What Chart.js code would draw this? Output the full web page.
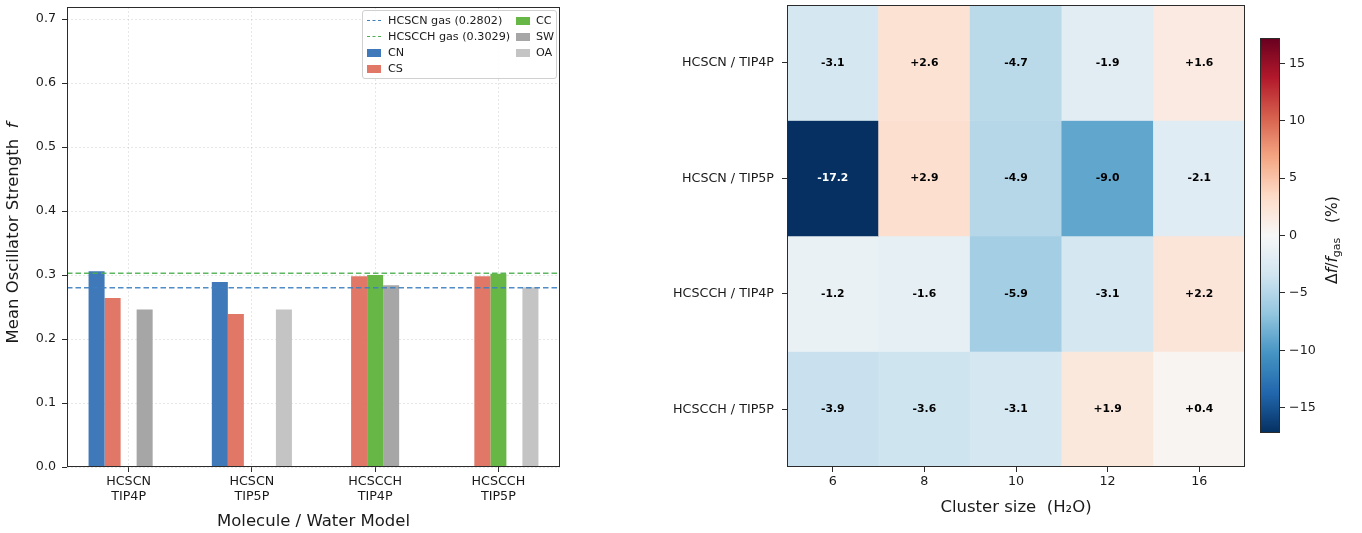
<!DOCTYPE html>
<html>
<head>
<meta charset="utf-8">
<script src="https://cdn.jsdelivr.net/npm/chart.js@4.4.1/dist/chart.umd.min.js"></script>
<style>
  body { margin: 0; background: #fff; width: 1362px; height: 533px; position: relative; overflow: hidden; font-family: "DejaVu Sans", sans-serif; }
  canvas { position: absolute; top: 0; }
  #legend { position: absolute; left: 362px; top: 10px; width: 193px; height: 67px; border: 1px solid #d0d0d0; border-radius: 3px; background: rgba(255,255,255,0.85); font-size: 11.2px; color: #1a1a1a; }
  .item { position: absolute; height: 16px; line-height: 16px; white-space: nowrap; }
  .patch { position: absolute; width: 14px; height: 8px; top: 4px; left: 0; }
  .dash { position: absolute; width: 14px; top: 7px; left: 0; height: 0; border-top: 1.5px dashed; }
</style>
</head>
<body>
<canvas id="bars" style="left:0" width="570" height="533"></canvas>
<canvas id="heat" style="left:600px" width="650" height="533"></canvas>
<canvas id="cbar" style="left:1250px" width="100" height="533"></canvas>
<div id="legend"></div>
<script>
// ---- left panel data ----
const groupLabels = [['HCSCN', 'TIP4P'], ['HCSCN', 'TIP5P'], ['HCSCCH', 'TIP4P'], ['HCSCCH', 'TIP5P']];
const cnValues = [0.306, 0.289, null, null];
const csValues = [0.264, 0.239, 0.298, 0.298];
const ccValues = [null, null, 0.300, 0.302];
const swValues = [0.246, null, 0.284, null];
const oaValues = [null, 0.246, null, 0.281];
const gasHCSCN = 0.2802;
const gasHCSCCH = 0.3029;
const yTicks = [0, 0.1, 0.2, 0.3, 0.4, 0.5, 0.6, 0.7];

// ---- right panel data ----
const clusterSizes = ['6', '8', '10', '12', '16'];
const systems = ['HCSCN / TIP4P', 'HCSCN / TIP5P', 'HCSCCH / TIP4P', 'HCSCCH / TIP5P'];
const hcscnTip4p = [-3.1, 2.6, -4.7, -1.9, 1.6];
const hcscnTip5p = [-17.2, 2.9, -4.9, -9.0, -2.1];
const hcscchTip4p = [-1.2, -1.6, -5.9, -3.1, 2.2];
const hcscchTip5p = [-3.9, -3.6, -3.1, 1.9, 0.4];
const cbarTicks = [-15, -10, -5, 0, 5, 10, 15];
const vmax = 17.2;

const colors = { CN: '#3f79b9', CS: '#e07767', CC: '#67b747', SW: '#a6a6a6', OA: '#c4c4c4',
                 gasCN: '#3d80c0', gasCC: '#4caf50' };
const FONT = '"DejaVu Sans", sans-serif';
const TXT = '#1a1a1a';
const TICK = 12.7;
const TITLE = 16.5;

// RdBu_r
const rdbu = ['#053061', '#2166ac', '#4393c3', '#92c5de', '#d1e5f0', '#f7f7f7', '#fddbc7', '#f4a582', '#d6604d', '#b2182b', '#67001f'];
function hex(h) { return [1, 3, 5].map(i => parseInt(h.substr(i, 2), 16)); }
function cmap(v) {
  let t = (v + vmax) / (2 * vmax);
  t = Math.max(0, Math.min(1, t));
  const p = t * 10, i = Math.min(9, Math.floor(p)), f = p - i;
  const a = hex(rdbu[i]), b = hex(rdbu[i + 1]);
  const c = a.map((x, k) => Math.round(x + (b[k] - x) * f));
  return 'rgb(' + c.join(',') + ')';
}

function drawRich(ctx, parts, cx, cy, rotate) {
  ctx.save();
  ctx.translate(cx, cy);
  if (rotate) ctx.rotate(-Math.PI / 2);
  let total = 0;
  parts.forEach(p => { ctx.font = p.font; p.w = ctx.measureText(p.t).width; total += p.w; });
  let x = -total / 2;
  ctx.textBaseline = 'middle';
  ctx.textAlign = 'left';
  ctx.fillStyle = TXT;
  parts.forEach(p => { ctx.font = p.font; ctx.fillText(p.t, x, p.dy || 0); x += p.w; });
  ctx.restore();
}

// fixed axis sizes so the plot boxes land where they do in the original
function fixV(w) { return s => { s.width = w; s.paddingTop = 0; s.paddingBottom = 0; }; }
function fixH(h) { return s => { s.height = h; s.paddingLeft = 0; s.paddingRight = 0; }; }

const frame = {
  id: 'frame',
  afterDraw(chart) {
    const { ctx, chartArea: a } = chart;
    ctx.save();
    ctx.strokeStyle = '#2b2b2b';
    ctx.lineWidth = 1;
    ctx.strokeRect(Math.round(a.left) + 0.5, Math.round(a.top) + 0.5, Math.round(a.right - a.left) - 1, Math.round(a.bottom - a.top) - 1);
    ctx.restore();
  }
};

// ---- bar chart ----
const gasLines = {
  id: 'gasLines',
  afterDatasetsDraw(chart) {
    const { ctx, chartArea: a, scales: { y } } = chart;
    [[gasHCSCN, colors.gasCN], [gasHCSCCH, colors.gasCC]].forEach(([v, c]) => {
      const py = y.getPixelForValue(v);
      ctx.save();
      ctx.strokeStyle = c;
      ctx.globalAlpha = 0.9;
      ctx.lineWidth = 1.5;
      ctx.setLineDash([5.5, 3]);
      ctx.beginPath();
      ctx.moveTo(a.left, py);
      ctx.lineTo(a.right, py);
      ctx.stroke();
      ctx.restore();
    });
  },
  afterDraw(chart) {
    drawRich(chart.ctx, [
      { t: 'Mean Oscillator Strength  ', font: TITLE + 'px ' + FONT },
      { t: 'f', font: 'italic ' + TITLE + 'px ' + FONT }
    ], 14, 233, true);
  }
};

function barSet(label, data, color) {
  return { label, data, backgroundColor: color, borderWidth: 0, categoryPercentage: 0.65, barPercentage: 1.0 };
}

new Chart(document.getElementById('bars'), {
  type: 'bar',
  data: {
    labels: groupLabels,
    datasets: [
      barSet('CN', cnValues, colors.CN),
      barSet('CS', csValues, colors.CS),
      barSet('CC', ccValues, colors.CC),
      barSet('SW', swValues, colors.SW),
      barSet('OA', oaValues, colors.OA)
    ]
  },
  options: {
    responsive: false,
    animation: false,
    layout: { padding: { left: 0, right: 10, top: 7, bottom: 0 } },
    plugins: { legend: { display: false }, tooltip: { enabled: false } },
    scales: {
      x: {
        grid: { offset: false, color: 'rgba(176,176,176,0.3)', tickColor: '#2b2b2b', tickLength: 5, tickBorderDash: [] },
        border: { display: false, dash: [2, 2] },
        ticks: { color: TXT, font: { family: FONT, size: TICK, lineHeight: 1.18 }, padding: 2, maxRotation: 0 },
        title: { display: true, text: 'Molecule / Water Model', color: TXT, font: { family: FONT, size: TITLE }, padding: { top: 2, bottom: 1 } },
        afterFit: fixH(66)
      },
      y: {
        min: 0, max: 0.719,
        afterBuildTicks(s) { s.ticks = yTicks.map(v => ({ value: v })); },
        grid: { color: 'rgba(176,176,176,0.3)', tickColor: '#2b2b2b', tickLength: 5, tickBorderDash: [] },
        border: { display: false, dash: [2, 2] },
        ticks: { color: TXT, font: { family: FONT, size: TICK }, padding: 6, callback: v => v.toFixed(1) },
        afterFit: fixV(67)
      }
    }
  },
  plugins: [gasLines, frame]
});

// legend (two columns, like the original)
const legendItems = [
  { col: 0, row: 0, kind: 'dash', color: colors.gasCN, text: 'HCSCN gas (' + gasHCSCN.toFixed(4) + ')' },
  { col: 0, row: 1, kind: 'dash', color: colors.gasCC, text: 'HCSCCH gas (' + gasHCSCCH.toFixed(4) + ')' },
  { col: 0, row: 2, kind: 'patch', color: colors.CN, text: 'CN' },
  { col: 0, row: 3, kind: 'patch', color: colors.CS, text: 'CS' },
  { col: 1, row: 0, kind: 'patch', color: colors.CC, text: 'CC' },
  { col: 1, row: 1, kind: 'patch', color: colors.SW, text: 'SW' },
  { col: 1, row: 2, kind: 'patch', color: colors.OA, text: 'OA' }
];
const legend = document.getElementById('legend');
legendItems.forEach(it => {
  const d = document.createElement('div');
  d.className = 'item';
  d.style.left = (it.col ? 153 : 4) + 'px';
  d.style.top = (2 + it.row * 16) + 'px';
  const m = document.createElement('span');
  m.className = it.kind;
  if (it.kind === 'dash') m.style.borderColor = it.color; else m.style.background = it.color;
  d.appendChild(m);
  const t = document.createElement('span');
  t.style.marginLeft = (it.col ? '20px' : '21px');
  t.textContent = it.text;
  d.appendChild(t);
  legend.appendChild(d);
});

// ---- heatmap ----
const heatRows = [hcscnTip4p, hcscnTip5p, hcscchTip4p, hcscchTip5p];

const cellLabels = {
  id: 'cellLabels',
  afterDatasetsDraw(chart) {
    const ctx = chart.ctx;
    ctx.save();
    ctx.font = 'bold 10.8px ' + FONT;
    ctx.textAlign = 'center';
    ctx.textBaseline = 'middle';
    heatRows.forEach((row, i) => {
      chart.getDatasetMeta(i).data.forEach((el, j) => {
        const v = row[j];
        ctx.fillStyle = Math.abs(v) > 10 ? '#ffffff' : '#000000';
        ctx.fillText((v > 0 ? '+' : '') + v.toFixed(1), el.x, (el.y + el.base) / 2);
      });
    });
    ctx.restore();
  }
};

new Chart(document.getElementById('heat'), {
  type: 'bar',
  data: {
    labels: clusterSizes,
    datasets: heatRows.map((row, i) => ({
      label: systems[i],
      data: row.map(() => [i, i + 1]),
      backgroundColor: row.map(cmap),
      borderWidth: 0,
      grouped: false,
      categoryPercentage: 1.0,
      barPercentage: 1.0
    }))
  },
  options: {
    responsive: false,
    animation: false,
    layout: { padding: { left: 0, right: 5, top: 5, bottom: 0 } },
    plugins: { legend: { display: false }, tooltip: { enabled: false } },
    scales: {
      x: {
        z: 1,
        grid: { offset: false, color: 'rgba(190,190,190,0.45)', tickColor: '#2b2b2b', tickLength: 5, tickBorderDash: [] },
        border: { display: false, dash: [2, 2] },
        ticks: { color: TXT, font: { family: FONT, size: TICK }, padding: 2 },
        title: { display: true, text: 'Cluster size  (H\u2082O)', color: TXT, font: { family: FONT, size: TITLE }, padding: { top: 2, bottom: 15 } },
        afterFit: fixH(66)
      },
      y: {
        z: 1,
        min: 0, max: 4, reverse: true,
        afterBuildTicks(s) { s.ticks = systems.map((_, i) => ({ value: i + 0.5 })); },
        grid: { color: 'rgba(190,190,190,0.45)', tickColor: '#2b2b2b', tickLength: 5, tickBorderDash: [] },
        border: { display: false, dash: [2, 2] },
        ticks: { color: TXT, font: { family: FONT, size: TICK }, padding: 8, callback: (v, i) => systems[i] },
        afterFit: fixV(187)
      }
    }
  },
  plugins: [cellLabels, frame]
});

// ---- colorbar ----
const cbarLabel = {
  id: 'cbarLabel',
  afterDraw(chart) {
    drawRich(chart.ctx, [
      { t: '\u0394', font: '15.5px ' + FONT },
      { t: 'f', font: 'italic 15.5px ' + FONT },
      { t: '/', font: '15.5px ' + FONT },
      { t: 'f', font: 'italic 15.5px ' + FONT },
      { t: 'gas', font: '11px ' + FONT, dy: 4 },
      { t: '   (%)', font: '15.5px ' + FONT }
    ], 83, 240, true);
  }
};

new Chart(document.getElementById('cbar'), {
  type: 'bar',
  data: {
    labels: [''],
    datasets: [{
      data: [[-vmax, vmax]],
      borderWidth: 0,
      categoryPercentage: 1.0,
      barPercentage: 1.0,
      backgroundColor(c) {
        const ch = c.chart, a = ch.chartArea;
        if (!a) return '#fff';
        const y = ch.scales.y;
        const g = ch.ctx.createLinearGradient(0, y.getPixelForValue(-vmax), 0, y.getPixelForValue(vmax));
        for (let k = 0; k <= 40; k++) g.addColorStop(k / 40, cmap(-vmax + 2 * vmax * k / 40));
        return g;
      }
    }]
  },
  options: {
    responsive: false,
    animation: false,
    layout: { padding: { left: 10, right: 0, top: 38, bottom: 100 } },
    plugins: { legend: { display: false }, tooltip: { enabled: false } },
    scales: {
      x: { display: false },
      y: {
        position: 'right',
        min: -vmax, max: vmax,
        afterBuildTicks(s) { s.ticks = cbarTicks.map(v => ({ value: v })); },
        grid: { drawOnChartArea: false, tickColor: '#2b2b2b', tickLength: 5 },
        border: { display: false },
        ticks: { color: TXT, font: { family: FONT, size: TICK }, padding: 4, callback: v => String(v).replace('-', '\u2212') },
        afterFit: fixV(70)
      }
    }
  },
  plugins: [cbarLabel, frame]
});
</script>
</body>
</html>
